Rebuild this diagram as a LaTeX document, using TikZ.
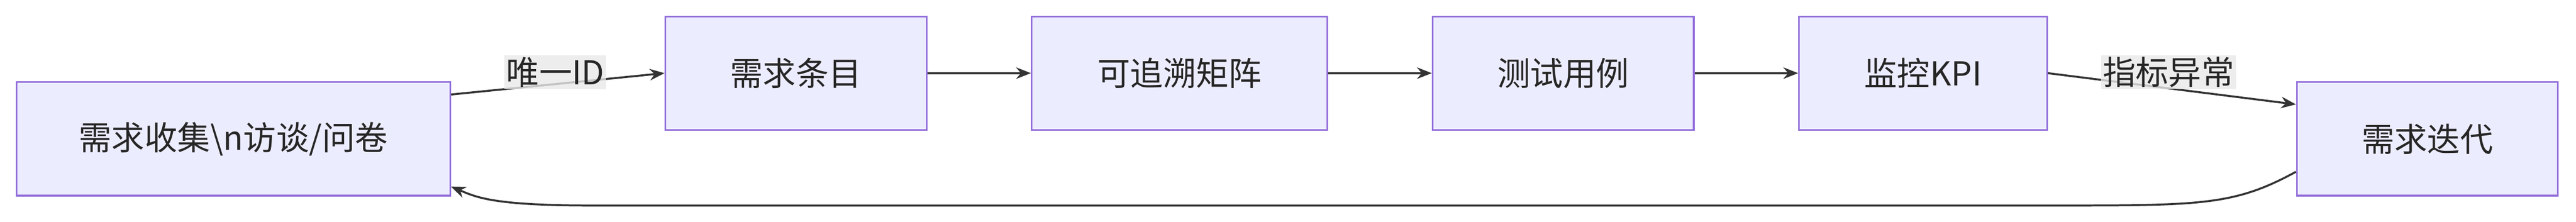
\documentclass[tikz,border=0pt]{standalone}
\usepackage{fontspec}
\setmainfont{Noto Sans CJK SC}
\usetikzlibrary{arrows.meta,calc}
\definecolor{nfill}{HTML}{ECECFF}
\definecolor{nstroke}{HTML}{9370DB}
\definecolor{edge}{HTML}{333333}
\definecolor{lbg}{HTML}{E8E8E8}
\begin{document}
\begin{tikzpicture}[x=1mm,y=1mm,
 box/.style={draw=nstroke,fill=nfill,line width=1mm,minimum height=69mm,inner sep=0pt,font=\fontsize{57}{62}\selectfont,text=black!85},
 conn/.style={draw=edge,line width=1.2mm,-{Stealth[length=9mm,width=7mm]}},
 lbl/.style={fill=lbg,fill opacity=0.8,text opacity=1,inner sep=1mm,font=\fontsize{57}{62}\selectfont,text=black!85}]
\useasboundingbox (0,0) rectangle (1568,-135);
\node[box,minimum width=264mm] (a) at (142,-84.5) {需求收集\textbackslash n访谈/问卷};
\node[box,minimum width=159mm] (b) at (484.5,-44.5) {需求条目};
\node[box,minimum width=180mm] (c) at (718,-44.5) {可追溯矩阵};
\node[box,minimum width=159mm] (d) at (951.5,-44.5) {测试用例};
\node[box,minimum width=151mm] (e) at (1170.5,-44.5) {监控KPI};
\node[box,minimum width=159mm] (f) at (1477.5,-84.5) {需求迭代};
\draw[conn] ($(a.north east)+(0,-8)$) -- (b.west);
\draw[conn] (b) -- (c);
\draw[conn] (c) -- (d);
\draw[conn] (d) -- (e);
\draw[conn] (e.east) -- ($(f.north west)+(0,-14)$);
\draw[conn] ($(f.south west)+(0,15)$) .. controls (1360,-125) and (1340,-125) .. (1250,-125)
  -- (360,-125) .. controls (300,-125) and (290,-120) .. ($(a.south east)+(0,6)$);
\node[lbl] (l1) at (338,-44) {唯一ID};
\node[lbl] (l2) at (1320,-44) {指标异常};
\end{tikzpicture}
\end{document}
